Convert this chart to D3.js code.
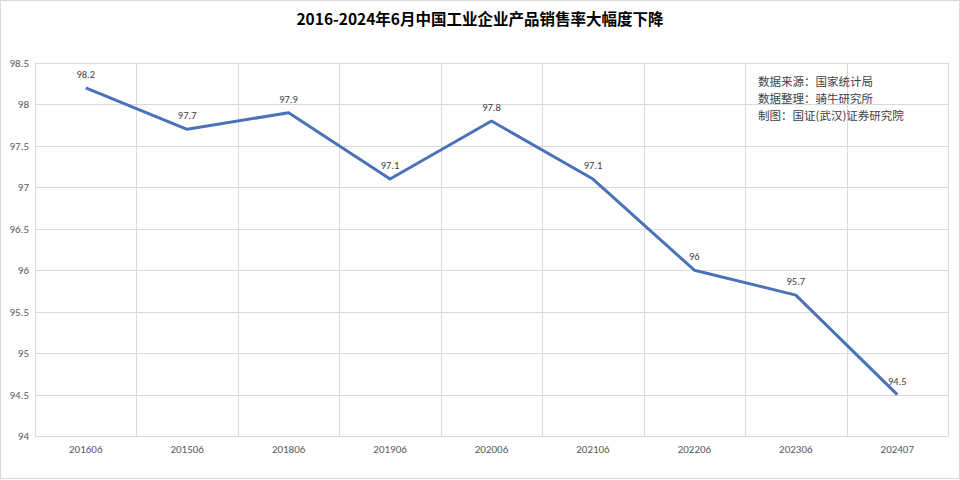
<!DOCTYPE html>
<html><head><meta charset="utf-8">
<script src="https://cdn.jsdelivr.net/npm/d3@7"></script>
<style>
html,body{margin:0;padding:0;background:#fff;}
svg{display:block;font-family:"Noto Sans CJK SC","Microsoft YaHei",sans-serif;}
</style></head>
<body><svg id="c" width="960" height="480"></svg>
<script>
const title = "2016-2024年6月中国工业企业产品销售率大幅度下降";
const categories = ["201606","201506","201806","201906","202006","202106","202206","202306","202407"];
const values = [98.2, 97.7, 97.9, 97.1, 97.8, 97.1, 96, 95.7, 94.5];
const yTicks = [94, 94.5, 95, 95.5, 96, 96.5, 97, 97.5, 98, 98.5];
const notes = ["数据来源：国家统计局", "数据整理：骑牛研究所", "制图：国证(武汉)证券研究院"];

const svg = d3.select("#c");
const m = {left: 35, right: 948, top: 63, bottom: 436};

svg.append("rect").attr("x",0.5).attr("y",0.5).attr("width",959).attr("height",478)
  .attr("fill","#fff").attr("stroke","#d9d9d9");

const x = d3.scaleBand().domain(categories).range([m.left, m.right]).padding(0);
const y = d3.scaleLinear().domain([94, 98.5]).range([m.bottom, m.top]);

// horizontal grid
const yAxis = d3.axisLeft(y).tickValues(yTicks).tickSize(-(m.right - m.left)).tickPadding(6)
  .tickFormat(d => String(d));
const gy = svg.append("g").attr("transform", `translate(${m.left},0)`).call(yAxis);
gy.select(".domain").remove();
gy.selectAll(".tick line").attr("stroke","#d9d9d9").attr("shape-rendering","crispEdges");
gy.selectAll(".tick text").attr("fill","#595959").attr("font-size",11)
  .attr("font-family","Calibri, Carlito, 'Liberation Sans', sans-serif");

// vertical grid at band edges
const edges = categories.map(c => x(c)).concat([m.right]);
svg.append("g").selectAll("line").data(edges).join("line")
  .attr("x1", d => Math.round(d) + 0.5).attr("x2", d => Math.round(d) + 0.5)
  .attr("y1", m.top).attr("y2", m.bottom)
  .attr("stroke","#d9d9d9");

// x axis labels
const xAxis = d3.axisBottom(x).tickSize(0).tickPadding(9);
const gx = svg.append("g").attr("transform", `translate(0,${m.bottom})`).call(xAxis);
gx.select(".domain").attr("stroke","#d9d9d9");
gx.selectAll(".tick text").attr("fill","#595959").attr("font-size",11)
  .attr("font-family","Calibri, Carlito, 'Liberation Sans', sans-serif");

// line
const cx = c => x(c) + x.bandwidth() / 2;
const data = categories.map((c, i) => ({c, v: values[i]}));
svg.append("path").datum(data)
  .attr("fill","none").attr("stroke","#4a72b8").attr("stroke-width",3)
  .attr("stroke-linejoin","round")
  .attr("d", d3.line().x(d => cx(d.c)).y(d => y(d.v)));

// data labels
svg.append("g").selectAll("text").data(data).join("text")
  .attr("x", d => cx(d.c)).attr("y", d => y(d.v) - 10)
  .attr("text-anchor","middle").attr("font-size",10.5).attr("fill","#404040")
  .attr("font-family","Calibri, Carlito, 'Liberation Sans', sans-serif")
  .text(d => String(d.v));

// title
svg.append("text").attr("x",480).attr("y",25).attr("text-anchor","middle")
  .attr("font-size",15.5).attr("font-weight","bold").attr("fill","#000")
  .text(title);

// notes
svg.append("g").selectAll("text").data(notes).join("text")
  .attr("x",758).attr("y",(d,i) => 86 + i*17)
  .attr("font-size",11.5).attr("fill","#404040")
  .text(d => d);
</script></body></html>
